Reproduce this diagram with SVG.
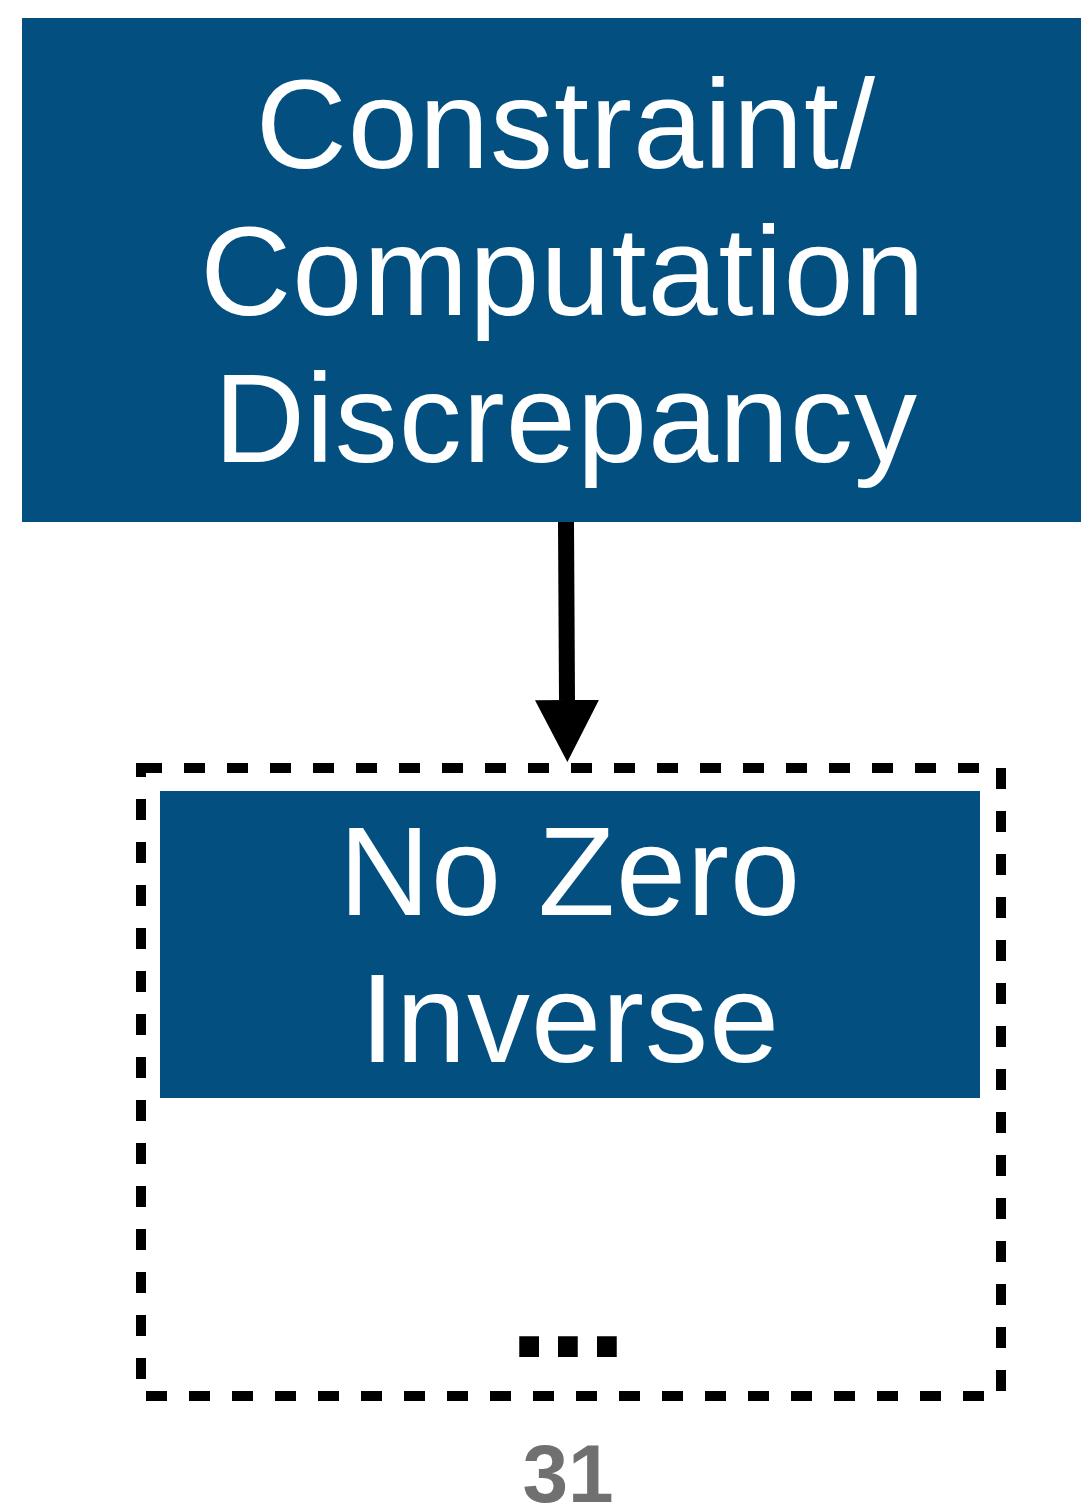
<svg xmlns="http://www.w3.org/2000/svg" width="1081" height="1507" viewBox="0 0 1081 1507">
<style>
.box{fill:#034f80}
.lbl{fill:#ffffff;font-family:"Liberation Sans",Arial,Helvetica,sans-serif;font-size:126px;letter-spacing:1px;text-anchor:middle}
</style>
<defs>
<marker id="ah" markerUnits="userSpaceOnUse" markerWidth="64" markerHeight="64" refX="0" refY="32" orient="auto" viewBox="0 0 64 64">
<path d="M0,0 L62,32 L0,64 Z" fill="#000"/>
</marker>
</defs>
<rect width="1081" height="1507" fill="#fff"/>
<g id="node-discrepancy">
<rect class="box" x="22" y="18" width="1059" height="504"/>
<text class="lbl" x="566" y="168">Constraint/</text>
<text class="lbl" x="563" y="315">Computation</text>
<text class="lbl" x="566" y="462">Discrepancy</text>
</g>
<g id="node-group">
<rect x="141" y="768" width="860" height="628" fill="none" stroke="#000" stroke-width="10" stroke-dasharray="21 22"/>
<text x="568" y="1357" font-family="'Liberation Sans',Arial,sans-serif" font-weight="bold" font-size="140" text-anchor="middle" fill="#000">...</text>
</g>
<g id="node-nozero">
<rect class="box" x="160" y="791" width="820" height="307"/>
<text class="lbl" x="570" y="915">No Zero</text>
<text class="lbl" x="570" y="1062">Inverse</text>
</g>
<g id="connectors">
<line x1="566" y1="522" x2="567" y2="700" stroke="#000" stroke-width="16" marker-end="url(#ah)"/>
</g>
<text id="page-number" x="568" y="1502" font-family="'Liberation Sans',Arial,sans-serif" font-weight="bold" font-size="82" text-anchor="middle" fill="#707070">31</text>
</svg>
